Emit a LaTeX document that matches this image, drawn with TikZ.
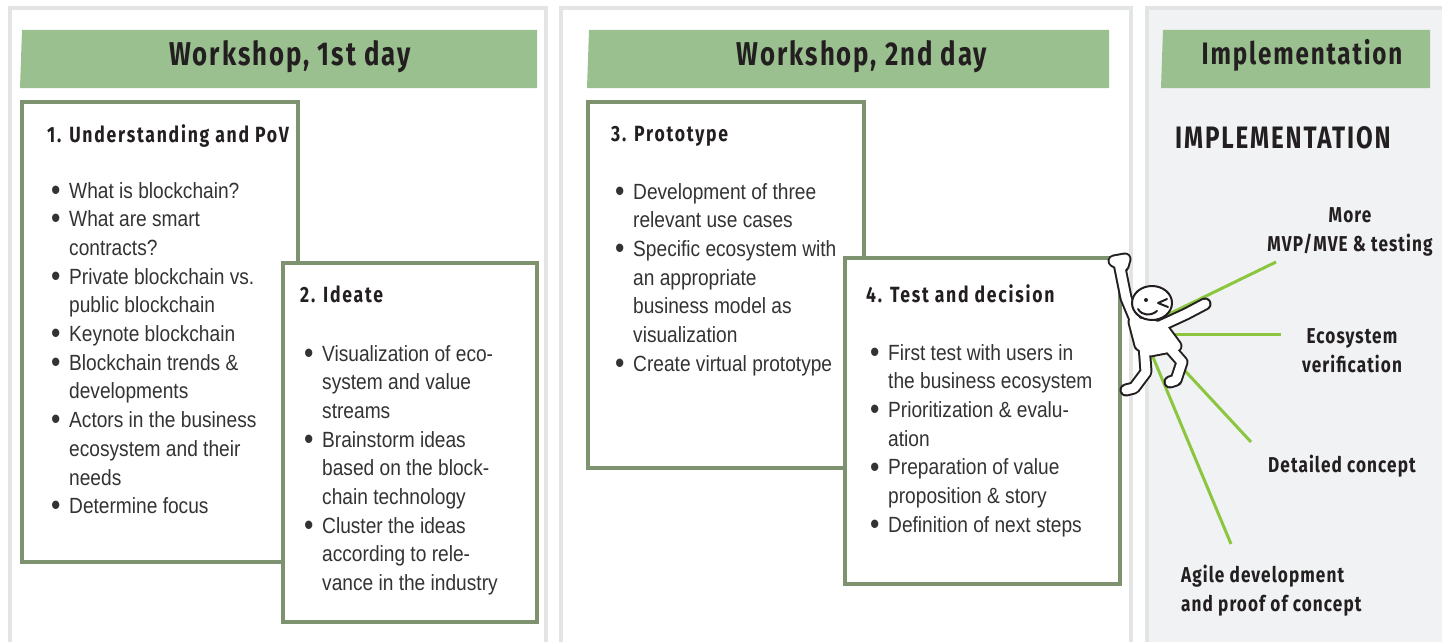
\documentclass[tikz,border=0pt]{standalone}
\usepackage{fontspec}
\setmainfont{Liberation Sans}[FakeStretch=0.87]
\newfontfamily\handfont{Fira Sans}[FakeStretch=0.78, LetterSpace=6]
\newfontfamily\tagfont{Fira Sans}[FakeStretch=0.8, LetterSpace=8]
\newfontfamily\lblfont{Fira Sans}[FakeStretch=0.8, LetterSpace=5]

\definecolor{panelgray}{HTML}{E3E4E6}
\definecolor{implbg}{HTML}{F1F2F4}
\definecolor{headgreen}{HTML}{9BC08F}
\definecolor{boxgreen}{HTML}{7F9270}
\definecolor{linegreen}{HTML}{8CC63F}
\definecolor{ink}{HTML}{231F20}
\definecolor{bodyink}{HTML}{333333}

\newcommand\bl{\makebox[18pt][l]{\raisebox{-2.2pt}{\scalebox{1.4}{\textbullet}}}}

\tikzset{
  panel/.style={draw=panelgray, line width=4pt},
  header/.style={fill=headgreen},
  card/.style={draw=boxgreen, line width=3.5pt, fill=white},
  headtext/.style={font=\handfont\bfseries\fontsize{33}{36}\selectfont, text=ink, inner sep=0pt, anchor=base},
  cardtitle/.style={font=\tagfont\bfseries\fontsize{22}{24}\selectfont, text=ink, inner sep=0pt, anchor=base west},
  cardbody/.style={font=\fontsize{22}{28.7}\selectfont, text=bodyink, inner sep=0pt, anchor=base west},
  lbl/.style={font=\lblfont\bfseries\fontsize{21.5}{29}\selectfont, text=ink, inner sep=0pt},
  ray/.style={draw=linegreen, line width=3pt},
}

\begin{document}
\begin{tikzpicture}[x=1pt, y=-1pt]
\useasboundingbox (0,0) rectangle (1442,642);
\clip (0,0) rectangle (1442,642);

% three column panels
\draw[panel] (10,8) rectangle (546,700);
\draw[panel] (561,8) rectangle (1131,700);
\draw[panel, fill=implbg] (1147,8) rectangle (1460,700);

% green header bands
\fill[header] (22,30) -- (537,30) -- (537,88) -- (20,88) -- cycle;
\fill[header] (589,30) -- (1109,30) -- (1109,88) -- (587,88) -- cycle;
\fill[header] (1163,30) -- (1430,30) -- (1430,88) -- (1161,88) -- cycle;
\node[headtext] (h1) at (290,66) {Workshop, 1st day};
\node[headtext] (h2) at (862,66) {Workshop, 2nd day};
\node[headtext, font=\handfont\bfseries\fontsize{31}{34}\selectfont] (h3) at (1302,65) {Implementation};

% step cards
\draw[card] (22,102) rectangle (298,562);
\draw[card] (283,263) rectangle (537,622);
\draw[card] (588,102) rectangle (864,468);
\draw[card] (845,258) rectangle (1120,584);

\node[cardtitle] (t1) at (47,142) {1. Understanding and PoV};
\node[cardbody] (b1) at (51,198) {\begin{tabular}[t]{@{}l@{}l@{}}
\bl & What is blockchain?\\
\bl & What are smart\\
    & contracts?\\
\bl & Private blockchain vs.\\
    & public blockchain\\
\bl & Keynote blockchain\\
\bl & Blockchain trends \&\\
    & developments\\
\bl & Actors in the business\\
    & ecosystem and their\\
    & needs\\
\bl & Determine focus
\end{tabular}};

\node[cardtitle] (t2) at (300,302) {2. Ideate};
\node[cardbody] (b2) at (304,361) {\begin{tabular}[t]{@{}l@{}l@{}}
\bl & Visualization of eco-\\
    & system and value\\
    & streams\\
\bl & Brainstorm ideas\\
    & based on the block-\\
    & chain technology\\
\bl & Cluster the ideas\\
    & according to rele-\\
    & vance in the industry
\end{tabular}};

\node[cardtitle] (t3) at (611,141) {3. Prototype};
\node[cardbody] (b3) at (615,199) {\begin{tabular}[t]{@{}l@{}l@{}}
\bl & Development of three\\
    & relevant use cases\\
\bl & Specific ecosystem with\\
    & an appropriate\\
    & business model as\\
    & visualization\\
\bl & Create virtual prototype
\end{tabular}};

\node[cardtitle] (t4) at (866,302) {4. Test and decision};
\node[cardbody] (b4) at (870,360) {\begin{tabular}[t]{@{}l@{}l@{}}
\bl & First test with users in\\
    & the business ecosystem\\
\bl & Prioritization \& evalu-\\
    & ation\\
\bl & Preparation of value\\
    & proposition \& story\\
\bl & Definition of next steps
\end{tabular}};

% implementation column
\node[font=\handfont\bfseries\fontsize{31}{34}\selectfont, text=ink, inner sep=0pt, anchor=base west] (impl) at (1175,148) {IMPLEMENTATION};

\node[lbl, anchor=base] (mvp) at (1350,222) {\begin{tabular}[t]{@{}c@{}}More\\MVP/MVE \& testing\end{tabular}};
\node[lbl, anchor=base] (eco) at (1352,343) {\begin{tabular}[t]{@{}c@{}}Ecosystem\\verification\end{tabular}};
\node[lbl, anchor=base west] (det) at (1268,472) {Detailed concept};
\node[lbl, anchor=base west] (agile) at (1181,582) {\begin{tabular}[t]{@{}l@{}}Agile development\\and proof of concept\end{tabular}};

% rays from the figure towards the labels
\coordinate (r1a) at (1165,316); \coordinate (r1b) at (1276,262);
\coordinate (r2a) at (1160,334); \coordinate (r2b) at (1281,334);
\coordinate (r3a) at (1175,360); \coordinate (r3b) at (1251,442);
\coordinate (r4a) at (1150,350); \coordinate (r4b) at (1231,544);
\draw[ray] (r1a) -- (r1b);
\draw[ray] (r2a) -- (r2b);
\draw[ray] (r3a) -- (r3b);
\draw[ray] (r4a) -- (r4b);

% cheering stick figure: black pass then white pass gives an outlined body
\foreach \w/\c in {13pt/ink, 9pt/white}{
  \draw[line width=\w, draw=\c, fill=\c, line join=round]
    (1134,322) -- (1162,327) -- (1176,346) -- (1150,351) -- (1140,345) -- cycle;
  \draw[line width=\w, draw=\c, fill=\c, line join=round]
    (1114,261) -- (1125,259) -- (1123,266) -- cycle;
  \draw[line width=\w, draw=\c, line cap=round, line join=round]
    (1119,263) -- (1126,298) -- (1136,322)
    (1160,326) -- (1186,314) -- (1205,304)
    (1144,345) -- (1146,372) -- (1134,388) -- (1126,390)
    (1168,346) -- (1182,362) -- (1176,380) -- (1170,382);
}
\draw[ink, line width=2pt, fill=white] (1152,303) ellipse [x radius=20, y radius=17];
\fill[ink] (1146,300) circle [radius=2];
\draw[ink, line width=2pt, line cap=round, line join=round] (1167,299) -- (1158,303) -- (1168,307);
\draw[ink, line width=2pt, line cap=round] (1138,309) .. controls (1142,316) and (1151,316) .. (1157,311);
\end{tikzpicture}
\end{document}
